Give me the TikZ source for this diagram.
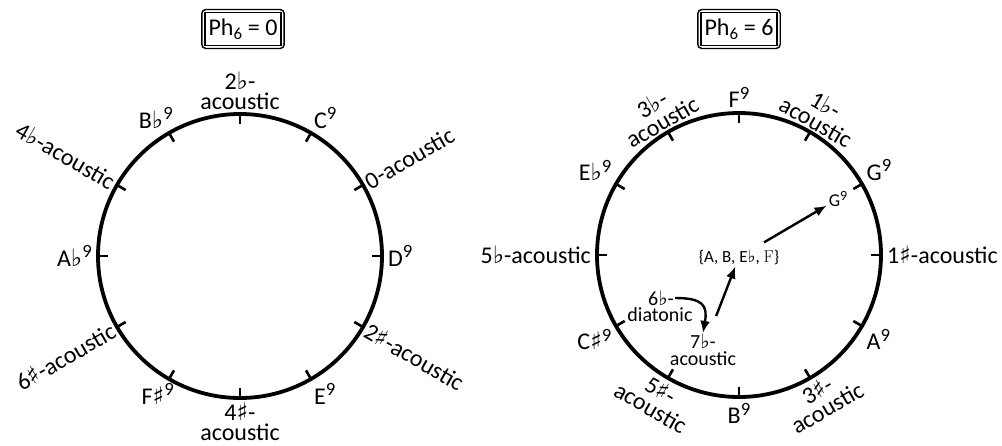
\documentclass[tikz,border=0pt]{standalone}
\usepackage{fontspec}
\usepackage{graphicx}
\setmainfont{Carlito}
\newfontfamily\symf{DejaVu Sans}
\newfontfamily\lmserif{Latin Modern Roman}
\usetikzlibrary{calc,fit,arrows.meta}
\newcommand\flt{{\symf\char"266D}}
\newcommand\shp{{\symf\char"266F}}
\newcommand\nine{\raisebox{0.36em}{\scalebox{0.78}{9}}}
\begin{document}
\begin{tikzpicture}[x=1pt,y=1pt,
  ring/.style={line width=3.8pt},
  tck/.style={line width=2.6pt},
  lab/.style={font=\fontsize{24}{20}\selectfont, inner sep=1pt, align=center},
  inlab/.style={font=\fontsize{20}{17}\selectfont, inner sep=1pt, align=center},
  arr/.style={line width=2.4pt, -{Latex[length=12pt,width=10pt]}},
  titlebox/.style={draw, line width=1.4pt, inner xsep=3.5pt, inner ysep=6pt, font=\fontsize{24}{24}\selectfont},
  outerbox/.style={draw, line width=1.4pt, rounded corners=4pt, inner sep=2.5pt}]
\useasboundingbox (0,0) rectangle (1002,-445);
\coordinate (L) at (240,-256);
\coordinate (R) at (739,-255);
\draw[ring] (L) circle[radius=142];
\draw[ring] (R) circle[radius=142];
\foreach \c in {L,R}{\foreach \a in {0,30,...,330} \draw[tck] ($(\c)+(\a:141)$) -- ($(\c)+(\a:132)$);}
% titles
\node[titlebox] (t1) at (243,-29) {Ph\textsubscript{6} = 0};
\node[outerbox, fit=(t1)] (t1o) {};
\node[titlebox] (t2) at (739,-29) {Ph\textsubscript{6} = 6};
\node[outerbox, fit=(t2)] (t2o) {};
% left circle labels
\node[lab, anchor=south] (l90) at ($(L)+(90:145)$) {2\flt-\\acoustic};
\node[lab, anchor=south west] (l60) at ($(L)+(60:146)$) {C\nine};
\node[lab, anchor=west, rotate=30] (l30) at ($(L)+(30:145)$) {0-acoustic};
\node[lab, anchor=west] (l0) at ($(L)+(0:147)$) {D\nine};
\node[lab, anchor=west, rotate=-30] (lm30) at ($(L)+(-30:145)$) {2\shp-acoustic};
\node[lab, anchor=north west] (lm60) at ($(L)+(-60:146)$) {E\nine};
\node[lab, anchor=north] (lm90) at ($(L)+(-90:146)$) {4\shp-\\acoustic};
\node[lab, anchor=north east] (lm120) at ($(L)+(-120:146)+(8,0)$) {F\shp\nine};
\node[lab, anchor=east, rotate=30] (lm150) at ($(L)+(-150:145)$) {6\shp-acoustic};
\node[lab, anchor=east] (l180) at ($(L)+(180:147)$) {A\flt\nine};
\node[lab, anchor=east, rotate=-30] (l150) at ($(L)+(150:145)$) {4\flt-acoustic};
\node[lab, anchor=south east] (l120) at ($(L)+(120:146)+(7,0)$) {B\flt\nine};
% right circle labels
\node[lab, anchor=south] (r90) at ($(R)+(90:146)$) {F\nine};
\node[lab, anchor=south, rotate=-30] (r60) at ($(R)+(60:144)$) {1\flt-\\acoustic};
\node[lab, anchor=south west] (r30) at ($(R)+(30:146)$) {G\nine};
\node[lab, anchor=west] (r0) at ($(R)+(0:147)$) {1\shp-acoustic};
\node[lab, anchor=north west] (rm30) at ($(R)+(-30:146)$) {A\nine};
\node[lab, anchor=north, rotate=30] (rm60) at ($(R)+(-60:146)$) {3\shp-\\acoustic};
\node[lab, anchor=north] (rm90) at ($(R)+(-90:147)$) {B\nine};
\node[lab, anchor=north, rotate=-30] (rm120) at ($(R)+(-120:146)$) {5\shp-\\acoustic};
\node[lab, anchor=north east] (rm150) at ($(R)+(-150:146)$) {C\shp\nine};
\node[lab, anchor=east] (r180) at ($(R)+(180:147)$) {5\flt-acoustic};
\node[lab, anchor=south east] (r150) at ($(R)+(150:146)$) {E\flt\nine};
\node[lab, anchor=south, rotate=30] (r120) at ($(R)+(120:144)$) {3\flt-\\acoustic};
% inner
\node[inlab] (six) at (661,-298) {6\flt-};
\node[inlab] (dia) at (660,-315) {diatonic};
\node[inlab] (sev) at (703,-350) {7\flt-\\acoustic};
\node[font=\fontsize{17}{17}\selectfont, inner sep=2pt] (set) at (739,-257) {\{A, B, E\flt, {\lmserif F}\}};
\node[font=\fontsize{18}{18}\selectfont, inner sep=2pt] (g) at (838,-199) {G\nine};
\draw[arr, shorten <=10pt] (set) -- (g);
\draw[arr, shorten <=18pt] (sev) -- (set);
\draw[arr] (six.east) to[out=0, in=80, looseness=1.6] (sev.north);
\end{tikzpicture}
\end{document}
